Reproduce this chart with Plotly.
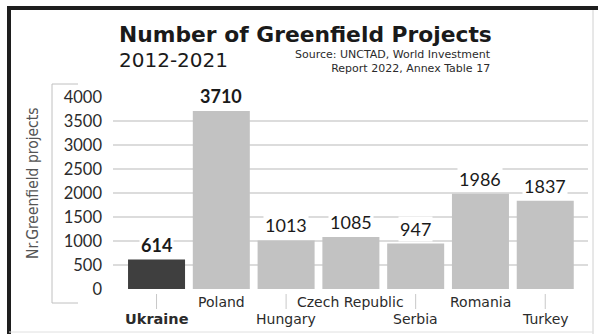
import plotly.graph_objects as go

categories = ["Ukraine", "Poland", "Hungary", "Czech Republic", "Serbia", "Romania", "Turkey"]
values = [614, 3710, 1013, 1085, 947, 1986, 1837]
label_row = ["low", "up", "low", "up", "low", "up", "low"]
highlight = "Ukraine"
y_ticks = [0, 500, 1000, 1500, 2000, 2500, 3000, 3500, 4000]

W, H = 598, 334
L, R, T, B = 113, 588, 97, 289  # plot area in px

def px(x):
    return (x - L) / (R - L)

def py(y):
    return (B - y) / (B - T)

FONT = "Lato, 'Open Sans', sans-serif"
DV = "'DejaVu Sans', sans-serif"
TXT = "#2b2b2b"

colors = ["#3f3f3f" if c == highlight else "#c2c2c2" for c in categories]

fig = go.Figure(go.Bar(
    x=categories, y=values, marker=dict(color=colors, line=dict(width=0)),
    hoverinfo="skip",
))

annotations = []
for c, v in zip(categories, values):
    bold = c in ("Ukraine", "Poland")
    annotations.append(dict(
        x=c, y=v, xref="x", yref="y", text=f"<b>{v}</b>" if bold else str(v),
        showarrow=False, yanchor="middle", yshift=15, bgcolor="white",
        font=dict(family=FONT, size=18, color="#1a1a1a"), borderpad=1,
    ))

shapes = []
for c, row in zip(categories, label_row):
    yy = py(302) if row == "up" else py(319)
    txt = f"<b>{c}</b>" if c == highlight else c
    annotations.append(dict(
        x=c, y=yy, xref="x", yref="paper", text=txt, showarrow=False,
        yanchor="middle",
        font=dict(family=DV, size=14.5 if c == highlight else 14, color=TXT),
    ))
    if row == "low":
        shapes.append(dict(type="line", xref="x", yref="paper", x0=c, x1=c,
                           y0=py(294), y1=py(309), line=dict(color="#c8c8c8", width=1)))

# titles
annotations += [
    dict(x=px(117), y=py(35), xref="paper", yref="paper", xanchor="left", yanchor="middle",
         text="<b>Number of Greenfield Projects</b>", showarrow=False,
         font=dict(family=DV, size=21.8, color="#1a1a1a")),
    dict(x=px(117), y=py(60), xref="paper", yref="paper", xanchor="left", yanchor="middle",
         text="2012-2021", showarrow=False, font=dict(family=DV, size=20, color="#1a1a1a")),
    dict(x=px(493), y=py(62), xref="paper", yref="paper", xanchor="right", yanchor="middle",
         text="Source: UNCTAD, World Investment<br>Report 2022, Annex Table 17",
         align="right", showarrow=False,
         font=dict(family=DV, size=11, color=TXT)),
    dict(x=px(33), y=py(183), xref="paper", yref="paper", xanchor="center", yanchor="middle",
         text="Nr.Greenfield projects", textangle=-90, showarrow=False,
         font=dict(family="'Liberation Sans Narrow', 'DejaVu Sans Condensed', sans-serif",
                   size=15.5, color="#555555")),
]

# frame and bracket
frame = [
    dict(x0=px(9), x1=px(9), y0=py(7), y1=py(334), color="#1e1e1e", w=4),
    dict(x0=px(7), x1=px(598), y0=py(8), y1=py(8), color="#1e1e1e", w=4),
    dict(x0=px(593), x1=px(593), y0=py(10), y1=py(334), color="#d0d0d0", w=1),
    dict(x0=px(9), x1=px(593), y0=py(332), y1=py(332), color="#e0e0e0", w=1),
    dict(x0=px(52), x1=px(52), y0=py(84), y1=py(303), color="#c0c0c0", w=1),
    dict(x0=px(52), x1=px(78), y0=py(84), y1=py(84), color="#c0c0c0", w=1),
    dict(x0=px(52), x1=px(78), y0=py(303), y1=py(303), color="#c0c0c0", w=1),
]
for f in frame:
    shapes.append(dict(type="line", xref="paper", yref="paper", x0=f["x0"], x1=f["x1"],
                       y0=f["y0"], y1=f["y1"], line=dict(color=f["color"], width=f["w"]),
                       layer="above"))

fig.update_layout(
    width=W, height=H, margin=dict(l=L, r=W - R, t=T, b=H - B),
    paper_bgcolor="white", plot_bgcolor="white", showlegend=False,
    bargap=0.12, annotations=annotations, shapes=shapes,
    xaxis=dict(range=[-0.672, 6.66], showticklabels=False, showgrid=False,
               zeroline=False, showline=False, fixedrange=True),
    yaxis=dict(range=[0, 4000], tickvals=y_ticks, ticktext=[str(t) for t in y_ticks],
               showgrid=True, gridcolor="#dcdcdc", gridwidth=1.5, zeroline=False,
               showline=False, ticks="", ticklabelstandoff=10,
               tickfont=dict(family=FONT, size=16.5, color=TXT), fixedrange=True),
)

fig.write_html("out.html")
